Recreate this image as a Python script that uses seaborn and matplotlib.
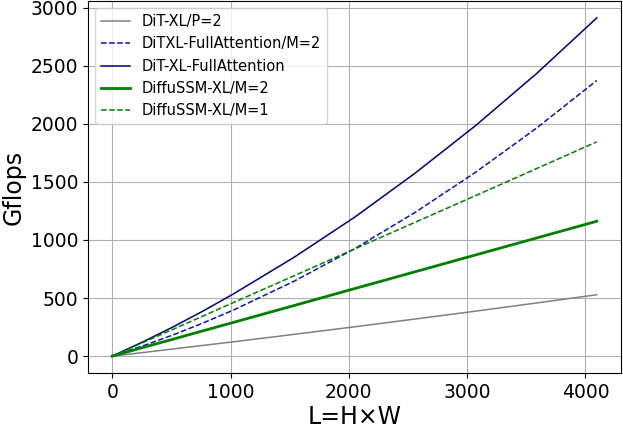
import matplotlib
matplotlib.use("Agg")
import matplotlib.pyplot as plt
import seaborn as sns
import pandas as pd

L = [0, 256, 512, 768, 1024, 1536, 2048, 2560, 3072, 3584, 4096]
dit_p2 = [0, 30, 61, 92, 123, 187, 252, 319, 387, 457, 528]
dit_fa_m2 = [0, 87, 181, 285, 396, 644, 924, 1237, 1583, 1961, 2373]
dit_fa = [0, 121, 250, 388, 535, 850, 1195, 1575, 1985, 2430, 2912]
ssm_m2 = [0, 73, 145, 218, 290, 435, 581, 726, 871, 1016, 1161]
ssm_m1 = [0, 115, 230, 345, 461, 691, 922, 1152, 1382, 1613, 1845]

series = [
    ("DiT-XL/P=2", dit_p2, "gray", "-", 1.1),
    ("DiTXL-FullAttention/M=2", dit_fa_m2, "#1010c0", "--", 1.1),
    ("DiT-XL-FullAttention", dit_fa, "navy", "-", 1.1),
    ("DiffuSSM-XL/M=2", ssm_m2, "green", "-", 2.0),
    ("DiffuSSM-XL/M=1", ssm_m1, "green", "--", 1.1),
]

fig = plt.figure(figsize=(6.23, 4.29), dpi=100)
ax = fig.add_axes([88 / 623, 56 / 429, (621 - 88) / 623, (428 - 56) / 429])

for name, vals, color, ls, lw in series:
    df = pd.DataFrame({"L": L, "G": vals})
    sns.lineplot(data=df, x="L", y="G", ax=ax, color=color, linestyle=ls,
                 linewidth=lw, label=name)

ax.grid(True, color="#b0b0b0", linewidth=0.8)
ax.set_axisbelow(True)
ax.set_xlabel("L=H×W", fontsize=17, labelpad=2)
ax.set_ylabel("Gflops", fontsize=17)
ax.tick_params(labelsize=13.5)
ax.set_xticks([0, 1000, 2000, 3000, 4000])
ax.set_yticks([0, 500, 1000, 1500, 2000, 2500, 3000])
ax.legend(loc="upper left", fontsize=10.5)

fig.savefig("out.png", dpi=100)
